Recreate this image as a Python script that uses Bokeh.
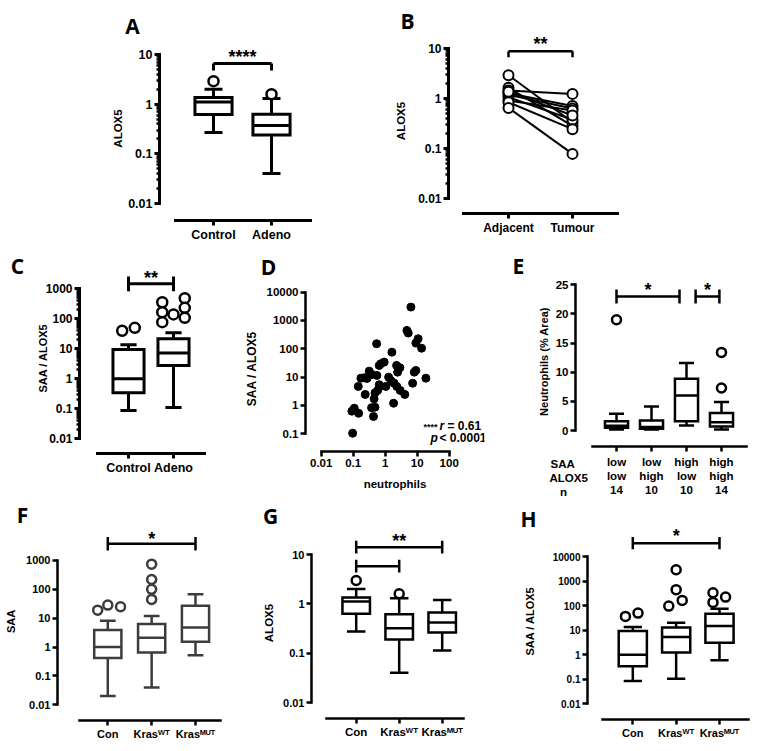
import math
from bokeh.plotting import figure
from bokeh.layouts import column, row
from bokeh.models import Range1d, FixedTicker
from bokeh.core.properties import value
from bokeh.embed import file_html
from bokeh.resources import INLINE

FONT = "Liberation Sans"
LETTER_FONT = "Open Sans"

# ---------------- data ----------------
# Panel A : ALOX5, Control vs Adeno
A_labels = ["Control", "Adeno"]
A_lo = [0.27, 0.04]
A_q1 = [0.62, 0.24]
A_med = [1.1, 0.37]
A_q3 = [1.36, 0.63]
A_hi = [2.0, 1.3]
A_out_group = [0, 1]
A_out_dx = [0.0, 0.0]
A_out_val = [2.9, 1.58]

# Panel B : paired ALOX5, Adjacent vs Tumour
B_labels = ["Adjacent", "Tumour"]
B_adjacent = [2.88, 1.61, 1.42, 1.26, 1.17, 1.05, 0.90, 0.83, 0.64, 1.35]
B_tumour = [0.33, 0.28, 1.22, 0.70, 0.62, 0.37, 0.57, 0.24, 0.077, 0.45]

# Panel C : SAA / ALOX5, Control vs Adeno
C_labels = ["Control", "Adeno"]
C_lo = [0.088, 0.11]
C_q1 = [0.34, 2.8]
C_med = [1.0, 7.2]
C_q3 = [9.5, 21.5]
C_hi = [13.6, 34.0]
C_out_group = [0, 0, 1, 1, 1, 1, 1, 1, 1]
C_out_dx = [-0.14, 0.14, -0.25, -0.25, -0.25, 0.0, 0.25, 0.25, 0.25]
C_out_val = [40, 50, 356, 166, 77, 140, 487, 232, 108]

# Panel D : SAA / ALOX5 vs neutrophils
D_neut = [6.36, 4.77, 5.25, 10.7, 9.1, 13.7, 0.54, 1.62, 0.73, 0.93,
          0.65, 2.27, 2.88, 2.44, 9.1, 8.1, 18.7, 7.2, 0.316, 0.38,
          0.174, 0.22, 0.55, 1.28, 1.5, 1.91, 2.3, 2.94, 4.1, 1.05,
          0.68, 0.58, 0.48, 0.144, 0.237, 0.45, 1.83, 0.375, 0.48, 0.43,
          0.108, 0.091, 0.148, 0.096, 0.27, 0.65]
D_ratio = [2970, 446, 359, 227, 159, 105, 151, 76, 29.7, 34,
           25.9, 25.9, 21.5, 15, 17.2, 15, 9.2, 6.1, 16.3, 12.4,
           9.2, 9.5, 11.5, 10, 7.6, 6.1, 4.7, 3.4, 2.45, 4.7,
           4.7, 3.4, 2.8, 4.7, 2.45, 1.72, 1.2, 0.83, 0.87, 0.41,
           0.80, 0.63, 0.53, 0.105, 9.0, 5.4]

# Panel E : Neutrophils (% Area) by SAA / ALOX5 group
E_labels = ["low\nlow\n14", "low\nhigh\n10", "high\nlow\n10", "high\nhigh\n14"]
E_header = ["SAA", "ALOX5", "n"]
E_lo = [0.17, 0.17, 0.86, 0.17]
E_q1 = [0.46, 0.29, 1.6, 0.69]
E_med = [0.8, 0.6, 6.0, 1.43]
E_q3 = [1.6, 1.7, 8.9, 3.0]
E_hi = [2.86, 4.1, 11.6, 4.9]
E_out_group = [0, 3, 3]
E_out_dx = [0.0, 0.0, 0.0]
E_out_val = [19.0, 13.4, 7.3]

# Panels F-H : by Kras status
K_labels = ["Con", "Kras\u1d42\u1d40", "Kras\u1d39\u1d41\u1d40"]
F_lo = [0.020, 0.040, 0.52]
F_q1 = [0.42, 0.65, 1.52]
F_med = [1.0, 2.1, 4.8]
F_q3 = [3.9, 6.25, 26.9]
F_hi = [8.1, 11.8, 68]
F_out_group = [0, 0, 0, 1, 1, 1, 1]
F_out_dx = [-0.23, 0.0, 0.29, 0.0, 0.0, 0.0, 0.0]
F_out_val = [19, 28.4, 24.8, 745, 219, 100, 44.8]

G_lo = [0.275, 0.040, 0.113]
G_q1 = [0.627, 0.19, 0.262]
G_med = [1.11, 0.32, 0.418]
G_q3 = [1.34, 0.618, 0.667]
G_hi = [1.99, 1.30, 1.2]
G_out_group = [0, 1]
G_out_dx = [0.0, 0.0]
G_out_val = [2.97, 1.6]

H_lo = [0.085, 0.105, 0.59]
H_q1 = [0.34, 1.24, 3.08]
H_med = [1.0, 5.2, 14.6]
H_q3 = [9.2, 12.9, 46.8]
H_hi = [13.3, 20, 74.6]
H_out_group = [0, 0, 1, 1, 1, 1, 2, 2, 2]
H_out_dx = [-0.17, 0.12, 0.0, 0.0, -0.17, 0.14, -0.15, -0.15, 0.14]
H_out_val = [36.3, 49.5, 2900, 445, 95.6, 163, 335, 135, 222]

LOG_TICKS = [0.01, 0.1, 1, 10, 100, 1000, 10000]
LOG_LABELS = ["0.01", "0.1", "1", "10", "100", "1000", "10000"]


# ---------------- geometry helpers ----------------
class Geo:
    """canvas/frame boxes in page pixels and the pixel<->data mapping of a panel"""
    def __init__(self, canvas, frame, xk, xpx, xv, xppu, yk, ypx, yv, yppu):
        self.canvas, self.frame = canvas, frame
        self.xk, self.xpx, self.xv, self.xppu = xk, xpx, xv, xppu
        self.yk, self.ypx, self.yv, self.yppu = yk, ypx, yv, yppu

    def x(self, px):
        if self.xk == "log":
            return 10 ** (math.log10(self.xv) + (px - self.xpx) / self.xppu)
        return self.xv + (px - self.xpx) / self.xppu

    def y(self, py):
        if self.yk == "log":
            return 10 ** (math.log10(self.yv) + (self.ypx - py) / self.yppu)
        return self.yv + (self.ypx - py) / self.yppu


def make_fig(g):
    cx0, cy0, cx1, cy1 = g.canvas
    fx0, fy0, fx1, fy1 = g.frame
    p = figure(width=cx1 - cx0, height=cy1 - cy0,
               x_axis_type="log" if g.xk == "log" else "linear",
               y_axis_type="log" if g.yk == "log" else "linear",
               x_range=Range1d(g.x(fx0), g.x(fx1)),
               y_range=Range1d(g.y(fy1), g.y(fy0)),
               min_border_left=fx0 - cx0, min_border_right=cx1 - fx1,
               min_border_top=fy0 - cy0, min_border_bottom=cy1 - fy1,
               frame_align=False,
               output_backend="svg", toolbar_location=None)
    p.outline_line_color = None
    p.xgrid.visible = False
    p.ygrid.visible = False
    p.background_fill_color = "white"
    p.border_fill_color = "white"
    return p


def style_axis(ax, ticks, labels, bounds, lw, size, minor=None, title=None,
               title_size="11px", title_standoff=2, label_standoff=2):
    ax.ticker = FixedTicker(ticks=ticks, minor_ticks=minor or [])
    ax.major_label_overrides = dict(zip(ticks, labels))
    ax.bounds = bounds
    ax.axis_line_width = lw
    ax.axis_line_color = "black"
    ax.axis_line_cap = "square"
    ax.major_tick_line_width = lw
    ax.major_tick_line_color = "black"
    ax.major_tick_out = 5
    ax.major_tick_in = 0
    ax.minor_tick_line_width = max(lw - 0.5, 1)
    ax.minor_tick_line_color = "black" if minor else None
    ax.minor_tick_out = 3
    ax.minor_tick_in = 0
    ax.major_label_text_font = FONT
    ax.major_label_text_font_style = "bold"
    ax.major_label_text_font_size = size
    ax.major_label_text_color = "black"
    ax.major_label_standoff = label_standoff
    if title:
        ax.axis_label = title
        ax.axis_label_text_font = FONT
        ax.axis_label_text_font_style = "bold"
        ax.axis_label_text_font_size = title_size
        ax.axis_label_text_color = "black"
        ax.axis_label_standoff = title_standoff


def log_minor(lo_exp, hi_exp):
    return [m * 10.0 ** k for k in range(lo_exp, hi_exp) for m in range(2, 10)]


def draw_boxes(p, lo, q1, med, q3, hi, box_w, cap_w, lw, color="black"):
    xs = list(range(len(lo)))
    kw = dict(line_color=color, line_width=lw, line_cap="butt")
    p.segment(xs, lo, xs, q1, **kw)
    p.segment(xs, q3, xs, hi, **kw)
    p.segment([x - cap_w / 2 for x in xs], lo, [x + cap_w / 2 for x in xs], lo, **kw)
    p.segment([x - cap_w / 2 for x in xs], hi, [x + cap_w / 2 for x in xs], hi, **kw)
    p.vbar(x=xs, width=box_w, bottom=q1, top=q3, fill_color="white",
           line_color=color, line_width=lw, line_join="miter")
    p.segment([x - box_w / 2 for x in xs], med, [x + box_w / 2 for x in xs], med, **kw)


def draw_outliers(p, groups, dxs, vals, size, lw, color="black"):
    p.scatter([g + d for g, d in zip(groups, dxs)], vals, marker="circle", size=size,
              fill_color="white", line_color=color, line_width=lw)


def bracket_down(p, x0, x1, y, y_leg, lw):
    p.segment([x0, x0, x1], [y, y, y_leg], [x1, x0, x1], [y, y_leg, y],
              line_color="black", line_width=lw)


def bracket_caps(p, x0, x1, y, y_lo, y_hi, lw):
    p.segment([x0, x0, x1], [y, y_lo, y_lo], [x1, x0, x1], [y, y_hi, y_hi],
              line_color="black", line_width=lw)


def txt(p, x, y, s, size, style="bold", align="center", font=FONT, level="glyph"):
    p.text(x=[x], y=[y], text=[s], text_align=align, text_baseline="middle",
           text_font=value(font), text_font_size=size, text_font_style=style,
           text_color="black", level=level)


def letter(p, g, px, py, s):
    txt(p, g.x(px), g.y(py), s, "21px", font=LETTER_FONT, level="overlay")


# ---------------- Panel A ----------------
gA = Geo((0, 0, 370, 245), (159, 36, 320, 220), "lin", 213, 0, 58, "log", 203, 0.01, 49.67)
pA = make_fig(gA)
draw_boxes(pA, A_lo, A_q1, A_med, A_q3, A_hi, 0.64, 0.31, 3)
draw_outliers(pA, A_out_group, A_out_dx, A_out_val, 10, 2.5)
bracket_down(pA, 0, 1, 6.6, 4.77, 3)
txt(pA, 0.5, 8.9, "****", "18px")
style_axis(pA.xaxis[0], [0, 1], A_labels, (gA.x(175), gA.x(310)), 3, "12.5px")
style_axis(pA.yaxis[0], LOG_TICKS[:4], LOG_LABELS[:4], (0.01, 10), 3, "12.5px",
           minor=log_minor(-2, 1), title="ALOX5", title_size="11.5px", title_standoff=1)
letter(pA, gA, 132, 25, "A")

# ---------------- Panel B ----------------
gB = Geo((370, 0, 763, 245), (448, 28, 640, 213), "lin", 508, 0, 64, "log", 197.7, 0.01, 50)
pB = make_fig(gB)
pB.segment([0] * len(B_adjacent), B_adjacent, [1] * len(B_tumour), B_tumour,
           line_color="black", line_width=2)
pB.scatter([0] * len(B_adjacent), B_adjacent, size=10, fill_color="white",
           line_color="black", line_width=2)
pB.scatter([1] * len(B_tumour), B_tumour, size=10, fill_color="white",
           line_color="black", line_width=2)
bracket_down(pB, 0, 1, 8.7, 6.6, 2.5)
txt(pB, 0.5, 12.1, "**", "18px")
style_axis(pB.xaxis[0], [0, 1], B_labels, (gB.x(463), gB.x(617)), 3, "12px")
style_axis(pB.yaxis[0], LOG_TICKS[:4], LOG_LABELS[:4], (0.01, 10), 3, "12px",
           minor=log_minor(-2, 1), title="ALOX5", title_size="11.5px", title_standoff=8)
letter(pB, gB, 407, 20, "B")

# ---------------- Panel C ----------------
gC = Geo((0, 245, 225, 500), (79, 262, 215, 453), "lin", 128, 0, 45, "log", 438.3, 0.01, 30)
pC = make_fig(gC)
draw_boxes(pC, C_lo, C_q1, C_med, C_q3, C_hi, 0.69, 0.36, 3)
draw_outliers(pC, C_out_group, C_out_dx, C_out_val, 10, 2.5)
bracket_caps(pC, 0, 1, 1468, 830, 2570, 3)
txt(pC, 0.5, 2380, "**", "18px")
style_axis(pC.xaxis[0], [0, 1], C_labels, (gC.x(97), gC.x(204)), 3, "12.5px")
style_axis(pC.yaxis[0], LOG_TICKS[:6], LOG_LABELS[:6], (0.01, 1000), 3, "12px",
           minor=log_minor(-2, 3), title="SAA / ALOX5", title_size="11px", title_standoff=-6)
letter(pC, gC, 17, 265, "C")

# ---------------- Panel D ----------------
gD = Geo((225, 245, 490, 500), (305, 285, 484, 451), "log", 320.7, 0.01, 32, "log", 433.3, 0.1, 28.33)
pD = make_fig(gD)
pD.scatter(D_neut, D_ratio, size=8, color="black")
style_axis(pD.xaxis[0], LOG_TICKS[:5], LOG_LABELS[:5], (0.01, 100), 2.5, "11.5px",
           title="neutrophils", title_size="11.5px", title_standoff=8)
style_axis(pD.yaxis[0], LOG_TICKS[1:], LOG_LABELS[1:], (0.1, 10000), 2.5, "11.5px",
           title="SAA / ALOX5", title_size="12px", title_standoff=5)
txt(pD, gD.x(423), gD.y(426), "****", "9px", align="left")
txt(pD, gD.x(439), gD.y(425), "r", "12px", style="bold italic", align="left")
txt(pD, gD.x(447), gD.y(425), "= 0.61", "12px", align="left")
txt(pD, gD.x(430), gD.y(437), "p", "12px", style="bold italic", align="left")
txt(pD, gD.x(439), gD.y(437), "< 0.0001", "12px", align="left")
letter(pD, gD, 268, 266, "D")

# ---------------- Panel E ----------------
gE = Geo((490, 245, 763, 500), (575, 276, 751, 446), "lin", 616, 0, 35, "lin", 430, 0, 5.828)
pE = make_fig(gE)
draw_boxes(pE, E_lo, E_q1, E_med, E_q3, E_hi, 0.66, 0.43, 2.5)
draw_outliers(pE, E_out_group, E_out_dx, E_out_val, 9, 2.5)
bracket_caps(pE, 0, 1.8, 23.0, 21.8, 24.2, 2.5)
bracket_caps(pE, 2.26, 2.94, 23.0, 21.8, 24.2, 2.5)
txt(pE, 0.9, 24.1, "*", "18px")
txt(pE, 2.6, 24.1, "*", "18px")
style_axis(pE.xaxis[0], [0, 1, 2, 3], E_labels, (gE.x(592), gE.x(746)), 2.5, "11.5px",
           label_standoff=4)
style_axis(pE.yaxis[0], [0, 5, 10, 15, 20, 25], ["0", "5", "10", "15", "20", "25"],
           (0, 25), 2.5, "11.5px", title="Neutrophils (% Area)", title_size="11px",
           title_standoff=3)
for s, px, py, al in zip(E_header, [550, 549, 563], [463, 477, 491], ["left", "left", "center"]):
    txt(pE, gE.x(px), gE.y(py), s, "11.5px", align=al, level="overlay")
letter(pE, gE, 518, 265, "E")

# ---------------- Panel F ----------------
gF = Geo((0, 500, 245, 751), (57, 522, 235, 720), "lin", 107.3, 0, 43.85, "log", 704.3, 0.01, 28.87)
pF = make_fig(gF)
GREY = "#3c3c3c"
draw_boxes(pF, F_lo, F_q1, F_med, F_q3, F_hi, 0.62, 0.36, 2.5, color=GREY)
draw_outliers(pF, F_out_group, F_out_dx, F_out_val, 9, 2.5, color=GREY)
bracket_caps(pF, 0, 2, 3780, 3780 / 10 ** 0.235, 3780 * 10 ** 0.235, 2.5)
txt(pF, 1, 5750, "*", "18px")
style_axis(pF.xaxis[0], [0, 1, 2], K_labels, (gF.x(79), gF.x(220)), 2.5, "11px")
style_axis(pF.yaxis[0], LOG_TICKS[:6], LOG_LABELS[:6], (0.01, 1000), 2.5, "11px",
           title="SAA", title_size="11px", title_standoff=6)
letter(pF, gF, 22, 514, "F")

# ---------------- Panel G ----------------
gG = Geo((245, 500, 500, 751), (311, 527, 470, 718), "lin", 355.7, 0, 43, "log", 702, 0.01, 49.33)
pG = make_fig(gG)
draw_boxes(pG, G_lo, G_q1, G_med, G_q3, G_hi, 0.64, 0.43, 2.5)
draw_outliers(pG, G_out_group, G_out_dx, G_out_val, 9, 2.5)
bracket_caps(pG, 0, 2, 14.1, 14.1 / 10 ** 0.128, 14.1 * 10 ** 0.128, 2.5)
bracket_caps(pG, 0, 1, 5.8, 5.8 / 10 ** 0.128, 5.8 * 10 ** 0.128, 2.5)
txt(pG, 1, 18.4, "**", "18px")
style_axis(pG.xaxis[0], [0, 1, 2], K_labels, (gG.x(326), gG.x(463)), 2.5, "11.5px")
style_axis(pG.yaxis[0], LOG_TICKS[:4], LOG_LABELS[:4], (0.01, 10), 2.5, "11px",
           title="ALOX5", title_size="11.5px", title_standoff=5)
letter(pG, gG, 270, 515, "G")

# ---------------- Panel H ----------------
gH = Geo((500, 500, 763, 751), (587, 522, 752, 719), "lin", 632.3, 0, 43.35, "log", 703.3, 0.01, 24.55)
pH = make_fig(gH)
draw_boxes(pH, H_lo, H_q1, H_med, H_q3, H_hi, 0.65, 0.42, 2.5)
draw_outliers(pH, H_out_group, H_out_dx, H_out_val, 9, 2.5)
bracket_caps(pH, 0, 2, 34800, 34800 / 10 ** 0.25, 34800 * 10 ** 0.25, 2.5)
txt(pH, 1, 65300, "*", "18px")
style_axis(pH.xaxis[0], [0, 1, 2], K_labels, (gH.x(602), gH.x(748)), 2.5, "11px")
style_axis(pH.yaxis[0], LOG_TICKS, LOG_LABELS, (0.01, 10000), 2.5, "10px",
           title="SAA / ALOX5", title_size="11px", title_standoff=14)
letter(pH, gH, 528, 518, "H")

layout = column(row(pA, pB), row(pC, pD, pE), row(pF, pG, pH))
open("out.html", "w").write(file_html(layout, INLINE))
